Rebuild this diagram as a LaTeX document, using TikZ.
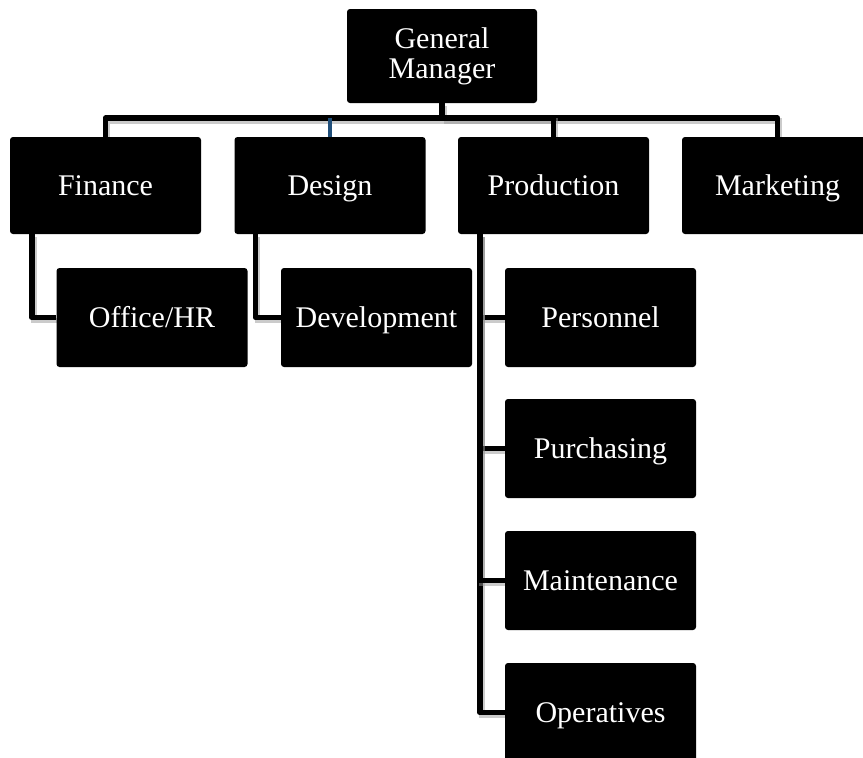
\documentclass[tikz,border=0pt]{standalone}
\usepackage{fontspec}
\setmainfont{Liberation Serif}
\usetikzlibrary{calc,backgrounds}
\begin{document}
\begin{tikzpicture}[x=1pt,y=1pt,
  box/.style={draw=none, fill=black, rounded corners=3pt, text=white,
    minimum width=191pt, minimum height=99pt, inner sep=0pt, align=center,
    text height=20pt, text depth=1pt,
    font=\fontsize{30}{31}\selectfont},
  topbox/.style={box, minimum height=97pt},
  conn/.style={line width=5.5pt, draw=black, line join=round,
    preaction={draw=black!40, opacity=0.5, line width=5.5pt,
      transform canvas={shift={(2pt,-3pt)}}}},
  blueconn/.style={line width=3.2pt, draw={rgb,255:red,31;green,78;blue,121}}]
\useasboundingbox (0,0) rectangle (863,-758);
\clip (0,0) rectangle (863,-758);

\node[box, minimum width=190pt, minimum height=94pt, text height=, text depth=,
  font=\fontsize{30}{30}\selectfont] (gm) at (442,-56) {General\\Manager};

\node[topbox] (fin)  at (105.5,-185.5) {Finance};
\node[topbox] (des)  at (330,-185.5)   {Design};
\node[topbox] (prod) at (553.5,-185.5) {Production};
\node[topbox] (mkt)  at (777.5,-185.5) {Marketing};

\node[box] (off)   at (152,-317.5)   {Office/HR};
\node[box] (dev)   at (376.5,-317.5) {Development};
\node[box] (pers)  at (600.5,-317.5) {Personnel};
\node[box] (purch) at (600.5,-448.5) {Purchasing};
\node[box] (maint) at (600.5,-580.5) {Maintenance};
\node[box] (oper)  at (600.5,-712.5) {Operatives};

\coordinate (bar) at (442,-118);
\coordinate (finx)  at ($(fin.south west)+(22,0)$);
\coordinate (desx)  at ($(des.south west)+(21,0)$);
\coordinate (prodx) at ($(prod.south west)+(22,0)$);

\begin{scope}[on background layer]
\fill[white] (0,0) rectangle (863,-758);
\draw[conn] (gm.south) -- (bar);
\draw[conn] (fin.north) |- (bar);
\draw[conn] (mkt.north) |- (bar);
\draw[conn] (prod.north) |- (bar);
\draw[blueconn] (des.north) -- (des.north |- bar);
\draw[conn] (finx) |- (off.west);
\draw[conn] (desx) |- (dev.west);
\draw[conn] (prodx) |- (oper.west);
\draw[conn] (prodx) |- (pers.west);
\draw[conn] (prodx) |- (purch.west);
\draw[conn] (prodx) |- (maint.west);
\end{scope}
\end{tikzpicture}
\end{document}
